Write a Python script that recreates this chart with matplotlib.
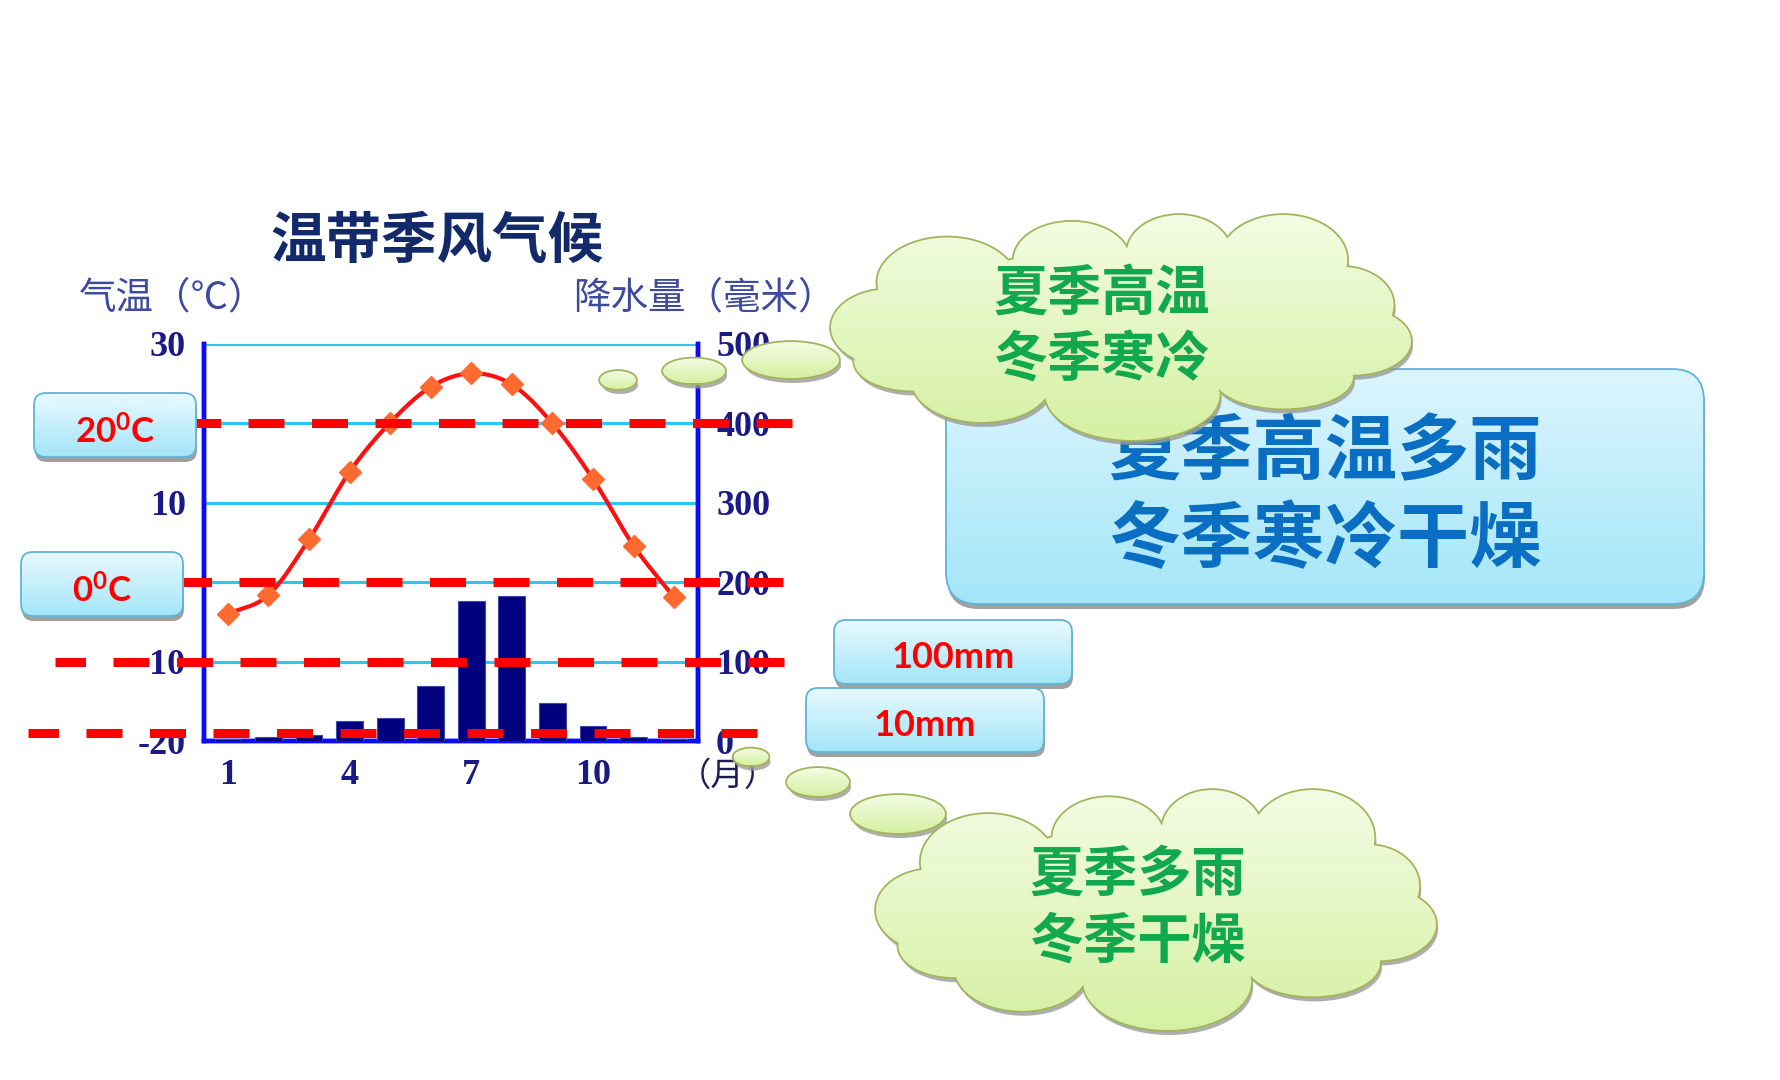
import numpy as np
import matplotlib
matplotlib.use("Agg")
import matplotlib.pyplot as plt
from matplotlib.patches import FancyBboxPatch, Ellipse, PathPatch
from matplotlib.path import Path
from matplotlib.colors import LinearSegmentedColormap
import matplotlib.transforms as mtransforms

# ---------------- data ----------------
months = list(range(1, 13))
temperature = [-4.0, -1.6, 5.4, 13.9, 20.1, 24.6, 26.3, 24.9, 20.0, 13.0, 4.6, -1.9]
precipitation = [2, 5, 8, 25, 29, 69, 176, 183, 48, 19, 5, 2]
x_ticks = [1, 4, 7, 10]
temp_ticks = [-20, -10, 0, 10, 20, 30]
temp_tick_labels = ["-20", "-10", "", "10", "", "30"]   # 0 and 20 are hidden under the boxes
precip_ticks = [0, 100, 200, 300, 400, 500]
title = "温带季风气候"
ylabel_left = "气温（℃）"
ylabel_right = "降水量（毫米）"
month_label = "（月）"
temp_marks = [20, 0]
precip_marks = [100, 10]
temp_box_labels = [r"$\mathbf{20^{0}C}$", r"$\mathbf{0^{0}C}$"]
precip_box_labels = ["100mm", "10mm"]
summary_text = "夏季高温多雨\n冬季寒冷干燥"
cloud_top_text = "夏季高温\n冬季寒冷"
cloud_bottom_text = "夏季多雨\n冬季干燥"

# ---------------- style ----------------
plt.rcParams['font.family'] = ['Noto Sans CJK SC', 'DejaVu Sans']
plt.rcParams['mathtext.fontset'] = 'custom'
plt.rcParams['mathtext.bf'] = 'Lato:bold'
plt.rcParams['mathtext.rm'] = 'Lato'

W, H = 1780, 1080
fig = plt.figure(figsize=(W / 100, H / 100), dpi=100)
fig.patch.set_facecolor("white")

NAVY = "#1a1a86"
ax = fig.add_axes([204 / W, 1 - 741 / H, (698 - 204) / W, (741 - 344) / H])
ax2 = ax.twinx()

ax.set_xlim(0.41, 12.59)
ax.set_ylim(-20, 30)
ax2.set_ylim(0, 500)

# gridlines (cyan)
for t in temp_ticks[1:]:
    ax.axhline(t, color="#2cc6ee", lw=2.2, zorder=1)

for a in (ax, ax2):
    a.spines["top"].set_visible(False)
    for s in ("left", "right", "bottom"):
        a.spines[s].set_color("#0a0aff")
        a.spines[s].set_linewidth(3.2)

ax.set_xticks(x_ticks)
ax.set_yticks(temp_ticks)
ax2.set_yticks(precip_ticks)
tick_font = dict(family="Liberation Serif", weight="bold", size=26)
ax.set_xticklabels([str(v) for v in x_ticks], color=NAVY, **tick_font)
ax.set_yticklabels(temp_tick_labels, color=NAVY, **tick_font)
ax2.set_yticklabels([str(v) for v in precip_ticks], color=NAVY, **tick_font)
ax.tick_params(axis="both", length=0)
ax.tick_params(axis="y", pad=13)
ax.tick_params(axis="x", pad=13)
ax2.tick_params(axis="y", length=0, pad=13)

# bars
ax2.bar(months, precipitation, width=0.66, color="#00007e", edgecolor="#3a4aa8",
        linewidth=0.8, zorder=3)


# temperature curve (Catmull-Rom through the monthly points)
def catmull_rom(xs, ys, n=20):
    xs = np.asarray(xs, float)
    ys = np.asarray(ys, float)
    px = np.concatenate([[2 * xs[0] - xs[1]], xs, [2 * xs[-1] - xs[-2]]])
    py = np.concatenate([[2 * ys[0] - ys[1]], ys, [2 * ys[-1] - ys[-2]]])
    outx, outy = [], []
    t = np.linspace(0, 1, n, endpoint=False)
    for i in range(1, len(px) - 2):
        p0, p1, p2, p3 = [np.array([px[j], py[j]]) for j in (i - 1, i, i + 1, i + 2)]
        pts = 0.5 * ((2 * p1)[None, :] + (-p0 + p2)[None, :] * t[:, None]
                     + (2 * p0 - 5 * p1 + 4 * p2 - p3)[None, :] * (t ** 2)[:, None]
                     + (-p0 + 3 * p1 - 3 * p2 + p3)[None, :] * (t ** 3)[:, None])
        outx.extend(pts[:, 0])
        outy.extend(pts[:, 1])
    outx.append(xs[-1])
    outy.append(ys[-1])
    return np.array(outx), np.array(outy)


cx, cy = catmull_rom(months, temperature)
ax.plot(cx, cy, color="#ff1010", lw=3.0, zorder=4)
ax.plot(months, temperature, linestyle="none", marker="D", markersize=11,
        color="#ff6a30", markeredgecolor="#ff6a30", zorder=5)

# title and axis labels
fig.text(437 / W, 1 - 242 / H, title, ha="center", va="center", fontsize=40,
         fontweight="heavy", color="#12296a")
fig.text(79 / W, 1 - 298 / H, ylabel_left, ha="left", va="center", fontsize=27,
         color="#3d4a9e")
fig.text(573 / W, 1 - 298 / H, ylabel_right, ha="left", va="center", fontsize=27,
         color="#3d4a9e")
fig.text(728 / W, 1 - 776 / H, month_label, ha="center", va="center", fontsize=24,
         color="#1c1c5a")

# dashed reference lines
LW_PT = 6.5
LW_PX = LW_PT * 100 / 72
DASH_PX, GAP_PX = 36.0, 27.5
PERIOD = DASH_PX + GAP_PX


def dashed(x0, x1, value, transform):
    # phase chosen so that each line ends on a whole dash
    offset = (PERIOD - ((x1 - DASH_PX - x0) % PERIOD)) % PERIOD
    ls = (offset / LW_PX, (DASH_PX / LW_PX, GAP_PX / LW_PX))
    ax2.plot([x0 / W, x1 / W], [value, value], transform=transform, color="#ff0000",
             lw=LW_PT, linestyle=ls, dash_capstyle="butt", clip_on=False, zorder=20)


tr_t = mtransforms.blended_transform_factory(fig.transFigure, ax.transData)
tr_p = mtransforms.blended_transform_factory(fig.transFigure, ax2.transData)
temp_spans = [(196, 792), (183, 783)]
precip_spans = [(55, 784), (28, 757)]
for v, (a0, a1) in zip(temp_marks, temp_spans):
    dashed(a0, a1, v, tr_t)
for v, (a0, a1) in zip(precip_marks, precip_spans):
    dashed(a0, a1, v, tr_p)

# ---------------- overlay decorations (pixel coordinates) ----------------
ov = fig.add_axes([0, 0, 1, 1], zorder=10)
ov.set_xlim(0, W)
ov.set_ylim(H, 0)
ov.axis("off")
ov.patch.set_alpha(0)


def grad_box(x0, y0, w, h, r, top, bottom, edge, z, text=None, tcolor="red",
             tsize=24, tfont=None, bold=True, dy=0.0):
    sh = FancyBboxPatch((x0 + 1, y0 + 5), w, h, boxstyle=f"round,pad=0,rounding_size={r}",
                        fc="#8f8f8f", ec="none", alpha=0.85, zorder=z)
    ov.add_patch(sh)
    patch = FancyBboxPatch((x0, y0), w, h, boxstyle=f"round,pad=0,rounding_size={r}",
                           fc="none", ec=edge, lw=1.3, zorder=z + 0.2)
    ov.add_patch(patch)
    grad = np.linspace(0, 1, 256).reshape(-1, 1)
    cmap = LinearSegmentedColormap.from_list("g", [top, bottom])
    im = ov.imshow(grad, extent=(x0, x0 + w, y0 + h, y0), cmap=cmap, aspect="auto",
                   origin="upper", zorder=z + 0.1, interpolation="bilinear")
    im.set_clip_path(patch)
    if text is not None:
        kw = dict(ha="center", va="center", fontsize=tsize, color=tcolor, zorder=z + 0.3)
        if tfont:
            kw["family"] = tfont
        if bold:
            kw["fontweight"] = "bold"
        ov.text(x0 + w / 2, y0 + h / 2 + dy, text, **kw)


BOX_TOP, BOX_BOT, BOX_EDGE = "#e9f9fe", "#a2e5f8", "#62b4d6"
grad_box(34, 393, 162, 64, 12, BOX_TOP, BOX_BOT, BOX_EDGE, 2, temp_box_labels[0],
         tsize=25, dy=8)
grad_box(21, 552, 162, 64, 12, BOX_TOP, BOX_BOT, BOX_EDGE, 2, temp_box_labels[1],
         tsize=25, dy=8)
grad_box(834, 620, 238, 64, 12, BOX_TOP, BOX_BOT, BOX_EDGE, 3, precip_box_labels[0],
         tsize=26, tfont="Lato", dy=5)
grad_box(806, 688, 238, 64, 12, BOX_TOP, BOX_BOT, BOX_EDGE, 4, precip_box_labels[1],
         tsize=26, tfont="Lato", dy=5)
grad_box(946, 369, 758, 235, 32, "#dcf5fd", "#a3e6f9", BOX_EDGE, 5, None)
ov.text(1325, 497, summary_text, ha="center", va="center", fontsize=52, fontweight="bold",
        color="#0a6fc2", linespacing=1.24, zorder=5.3)

CLOUD_LUMPS = [
    (0.20, 0.30, 0.12, 0.20), (0.415, 0.20, 0.10, 0.17), (0.60, 0.17, 0.09, 0.17),
    (0.78, 0.20, 0.11, 0.20), (0.88, 0.40, 0.09, 0.17), (0.90, 0.56, 0.10, 0.15),
    (0.78, 0.72, 0.12, 0.14), (0.52, 0.80, 0.15, 0.20), (0.26, 0.74, 0.12, 0.18),
    (0.10, 0.50, 0.10, 0.17), (0.14, 0.65, 0.10, 0.13), (0.50, 0.48, 0.36, 0.33),
]
C_TOP, C_BOT, C_EDGE = "#f3fce3", "#d5f0a2", "#a3b45c"


def ellipse_path(cx_, cy_, w, h):
    e = Ellipse((cx_, cy_), w, h)
    return e.get_patch_transform().transform_path(e.get_path())


def green_shape(paths, x0, y0, w, h, z):
    comp = Path.make_compound_path(*paths)
    shadow = Path(comp.vertices + np.array([2, 5]), comp.codes)
    ov.add_patch(PathPatch(shadow, fc="#9a9a9a", ec="none", alpha=0.8, zorder=z))
    for p in paths:
        ov.add_patch(PathPatch(p, fc="none", ec=C_EDGE, lw=2.6, zorder=z + 0.05))
    clip = PathPatch(comp, fc="none", ec="none", zorder=z + 0.1)
    ov.add_patch(clip)
    grad = np.linspace(0, 1, 256).reshape(-1, 1)
    cmap = LinearSegmentedColormap.from_list("c", [C_TOP, C_BOT])
    im = ov.imshow(grad, extent=(x0, x0 + w, y0 + h, y0), cmap=cmap, aspect="auto",
                   origin="upper", zorder=z + 0.1, interpolation="bilinear")
    im.set_clip_path(clip)


def cloud(x0, y0, w, h, z, text, tx, ty):
    paths = [ellipse_path(x0 + cx_ * w, y0 + cy_ * h, 2 * rx * w, 2 * ry * h)
             for cx_, cy_, rx, ry in CLOUD_LUMPS]
    green_shape(paths, x0, y0, w, h, z)
    ov.text(tx, ty, text, ha="center", va="center", fontsize=39, fontweight="bold",
            color="#12a84e", linespacing=1.27, zorder=z + 0.3)


def bubble(cx_, cy_, w, h, z):
    p = ellipse_path(cx_, cy_, w, h)
    green_shape([p], cx_ - w / 2, cy_ - h / 2, w, h, z)


# top cloud with thought bubbles
for i, (bx, by, bw, bh) in enumerate([(618, 380, 36, 18), (694, 371, 62, 25),
                                      (791, 360, 96, 36)]):
    bubble(bx, by, bw, bh, 6 + i * 0.01)
cloud(831, 215, 580, 225, 7, cloud_top_text, 1102, 328)

# bottom cloud with thought bubbles
for i, (bx, by, bw, bh) in enumerate([(751, 757, 35, 17), (818, 782, 62, 28),
                                      (898, 814, 94, 38)]):
    bubble(bx, by, bw, bh, 6 + i * 0.01)
cloud(876, 790, 560, 240, 7, cloud_bottom_text, 1138, 909)

ov.set_xlim(0, W)
ov.set_ylim(H, 0)

fig.savefig("out.png", dpi=100, facecolor="white")
